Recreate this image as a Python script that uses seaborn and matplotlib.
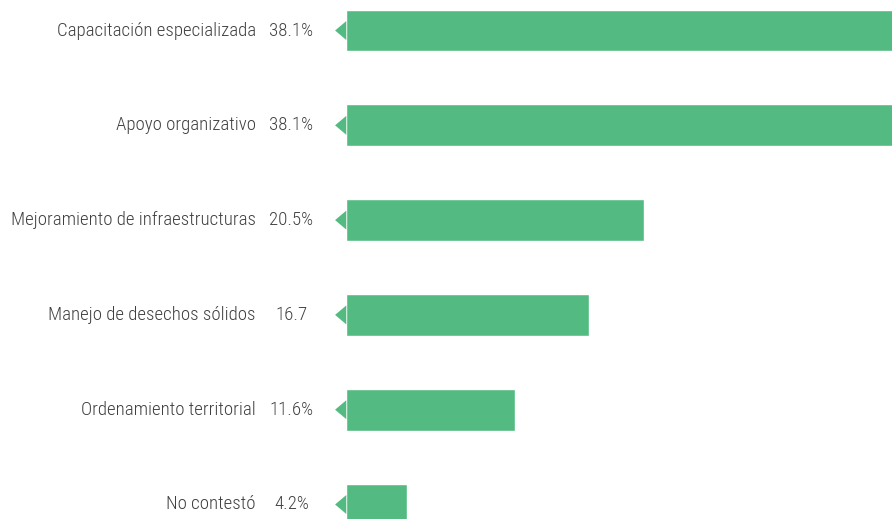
import numpy as np
import pandas as pd
import matplotlib
matplotlib.use("Agg")
import matplotlib.pyplot as plt
import seaborn as sns

# Data
categories = ["Capacitación especializada", "Apoyo organizativo",
              "Mejoramiento de infraestructuras", "Manejo de desechos sólidos",
              "Ordenamiento territorial", "No contestó"]
values = [38.1, 38.1, 20.5, 16.7, 11.6, 4.2]
value_labels = ["38.1%", "38.1%", "20.5%", "16.7", "11.6%", "4.2%"]

df = pd.DataFrame({"categoria": categories, "valor": values})

green = "#53bb82"
text_color = "#404040"

sns.set_style("white")
plt.rcParams["font.family"] = ["Roboto Condensed", "DejaVu Sans Condensed",
                               "Liberation Sans Narrow", "Roboto", "DejaVu Sans"]

fig = plt.figure(figsize=(8.92, 5.19), dpi=100)
ax = fig.add_axes([0, 0, 1, 1])

sns.barplot(data=df, y="categoria", x="valor", orient="h", color=green,
            saturation=1, width=0.44, ax=ax)

cat_texts, val_texts = [], []
# small left-pointing notch in front of each bar
for i in range(len(values)):
    ax.fill([0.02, -0.75, 0.02], [i - 0.1, i, i + 0.1], color=green,
            lw=0, clip_on=False)
    cat_texts.append(ax.text(-6.2, i, categories[i], ha="right", va="center",
                             fontsize=15, color=text_color, fontweight="light"))
    val_texts.append(ax.text(-3.75, i, value_labels[i], ha="center", va="center",
                             fontsize=15, color=text_color, fontweight="light"))

px = 14.55  # pixels per percent
ax.set_xlim(-346 / px, 546 / px)
ax.set_ylim(5.153, -0.322)
ax.axis("off")

# scale the fonts so the longest label spans about the same width as the reference
fig.canvas.draw()
r = fig.canvas.get_renderer()
w = cat_texts[2].get_window_extent(r).width
scale = 244 / w
for t in cat_texts + val_texts:
    t.set_fontsize(15 * scale)

fig.savefig("out.png", dpi=100)
